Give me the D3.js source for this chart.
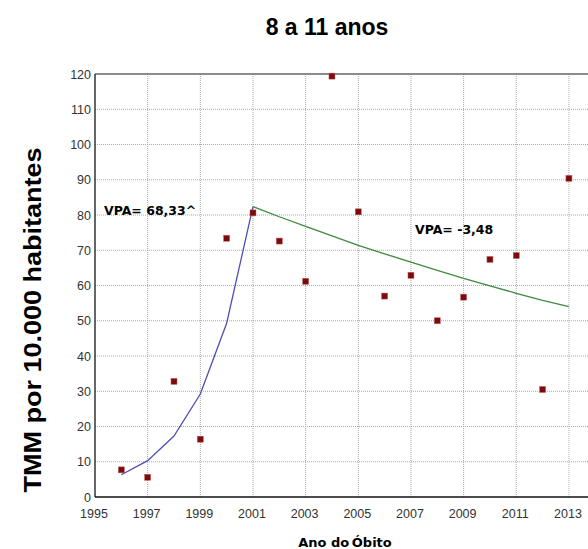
<!DOCTYPE html>
<meta charset="utf-8">
<head>
<style>
body { margin: 0; background: #fff; }
.grid line { stroke: #a8a8a8; stroke-width: 1; stroke-dasharray: 1,1; }
.tick-label { font: 12.5px "Liberation Sans", Arial, sans-serif; fill: #333; }
</style>
</head>
<body>
<svg width="588" height="549"></svg>
<script src="https://d3js.org/d3.v7.min.js"></script>
<script>

// observed rates (TMM per 10.000)
var years = [1996, 1997, 1998, 1999, 2000, 2001, 2002, 2003, 2004, 2005, 2006, 2007, 2008, 2009, 2010, 2011, 2012, 2013];
var rates = [7.7, 5.6, 32.8, 16.4, 73.4, 80.6, 72.6, 61.2, 119.4, 80.9, 57.0, 62.9, 50.0, 56.7, 67.4, 68.5, 30.5, 90.4];

// joinpoint segment 1 (blue)
var fit1Years = [1996, 1997, 1998, 1999, 2000, 2001];
var fit1Vals  = [6.3, 10.3, 17.3, 29.2, 49.3, 82.4];

// joinpoint segment 2 (green)
var fit2Years = [2001, 2002, 2003, 2004, 2005, 2006, 2007, 2008, 2009, 2010, 2011, 2012, 2013];
var fit2Vals  = [82.4, 79.5, 76.8, 74.1, 71.4, 69.0, 66.6, 64.3, 62.0, 59.9, 57.8, 55.8, 54.0];

var xTicks = [1995, 1997, 1999, 2001, 2003, 2005, 2007, 2009, 2011, 2013];
var yTicks = [0, 10, 20, 30, 40, 50, 60, 70, 80, 90, 100, 110, 120];

var svg = d3.select("svg");

var x = d3.scaleLinear().domain([1995, 2015]).range([95, 621.6]);
var y = d3.scaleLinear().domain([0, 120]).range([497, 74]);

// grid
var grid = svg.append("g").attr("class", "grid");
grid.selectAll(".v")
  .data(xTicks.filter(function(d) { return d > 1995; }))
  .enter().append("line")
    .attr("x1", function(d) { return x(d); })
    .attr("x2", function(d) { return x(d); })
    .attr("y1", y(120))
    .attr("y2", y(0));
grid.selectAll(".h")
  .data(yTicks.filter(function(d) { return d > 0 && d < 120; }))
  .enter().append("line")
    .attr("x1", x(1995))
    .attr("x2", 588)
    .attr("y1", function(d) { return y(d); })
    .attr("y2", function(d) { return y(d); });

// frame
svg.append("line").attr("x1", x(1995)).attr("x2", 588).attr("y1", y(120)).attr("y2", y(120))
  .attr("stroke", "#666").attr("stroke-width", 1.5);
svg.append("line").attr("x1", x(1995)).attr("x2", x(1995)).attr("y1", y(120)).attr("y2", y(0))
  .attr("stroke", "#333").attr("stroke-width", 1.5);
svg.append("line").attr("x1", x(1995)).attr("x2", 588).attr("y1", y(0)).attr("y2", y(0))
  .attr("stroke", "#111").attr("stroke-width", 1.5);

// tick labels
svg.selectAll(".ylab")
  .data(yTicks)
  .enter().append("text")
    .attr("class", "tick-label")
    .attr("x", 91)
    .attr("y", function(d) { return y(d); })
    .attr("dy", "0.36em")
    .attr("text-anchor", "end")
    .text(function(d) { return d; });

svg.selectAll(".xlab")
  .data(xTicks)
  .enter().append("text")
    .attr("class", "tick-label")
    .attr("x", function(d) { return x(d) - 1; })
    .attr("y", 518)
    .attr("text-anchor", "middle")
    .text(function(d) { return d; });

// fitted lines
var line = d3.line()
  .x(function(d) { return x(d[0]); })
  .y(function(d) { return y(d[1]); });

svg.append("path")
  .datum(d3.zip(fit1Years, fit1Vals))
  .attr("d", line)
  .attr("fill", "none")
  .attr("stroke", "#4f4fb4")
  .attr("stroke-width", 1.3);

svg.append("path")
  .datum(d3.zip(fit2Years, fit2Vals))
  .attr("d", line)
  .attr("fill", "none")
  .attr("stroke", "#3f8a3f")
  .attr("stroke-width", 1.3);

// observed points
svg.selectAll(".pt")
  .data(d3.zip(years, rates))
  .enter().append("rect")
    .attr("x", function(d) { return x(d[0]) - 3; })
    .attr("y", function(d) { return y(d[1]) - 3; })
    .attr("width", 6)
    .attr("height", 6)
    .attr("fill", "#7d0b0b")
    .attr("stroke", "#c06060")
    .attr("stroke-width", 0.5);

// annotations
svg.append("text")
  .attr("x", 104).attr("y", 215)
  .style("font", "bold 12.5px 'DejaVu Sans', sans-serif")
  .text("VPA= 68,33^");
svg.append("text")
  .attr("x", 415).attr("y", 233.5)
  .style("font", "bold 12.5px 'DejaVu Sans', sans-serif")
  .text("VPA= -3,48");

// titles
svg.append("text")
  .attr("x", 327).attr("y", 35)
  .attr("text-anchor", "middle")
  .style("font", "bold 23px 'Liberation Sans', Arial, sans-serif")
  .text("8 a 11 anos");

svg.append("text")
  .attr("transform", "translate(41,320) rotate(-90)")
  .attr("text-anchor", "middle")
  .attr("textLength", 345)
  .attr("lengthAdjust", "spacingAndGlyphs")
  .style("font", "bold 23px 'Liberation Sans', Arial, sans-serif")
  .text("TMM por 10.000 habitantes");

svg.append("text")
  .attr("x", 345).attr("y", 547)
  .attr("text-anchor", "middle")
  .style("font", "bold 13px 'DejaVu Sans', sans-serif")
  .text("Ano do\u2009Óbito");

</script>
</body>
</html>
